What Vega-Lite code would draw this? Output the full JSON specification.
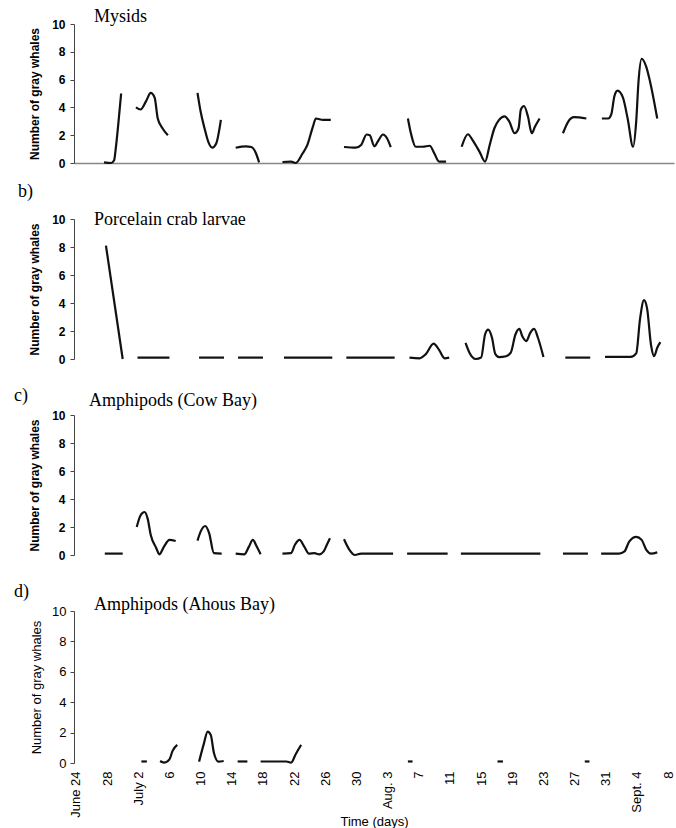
{
"$schema": "https://vega.github.io/schema/vega-lite/v6.json",
"background": "white",
"padding": {"left": 13, "top": 8, "right": 0, "bottom": 0},
"bounds": "flush",
"spacing": 56,
"config": {"view": {"stroke": null}, "axis": {"grid": false}, "text": {"font": "Liberation Serif", "fontSize": 18, "align": "left", "baseline": "alphabetic", "color": "#000"}},
"resolve": {"scale": {"x": "independent", "y": "independent"}},
"datasets": {
"mysids": [
{"s":1,"d":3.6,"n":0.05},{"s":1,"d":4.5,"n":0},{"s":1,"d":4.9,"n":0.2},{"s":1,"d":5.1,"n":1.0},{"s":1,"d":5.4,"n":2.6},{"s":1,"d":5.8,"n":5.0},
{"s":2,"d":7.7,"n":4.0},{"s":2,"d":8.3,"n":3.85},{"s":2,"d":9.0,"n":4.45},{"s":2,"d":9.6,"n":5.05},{"s":2,"d":10.1,"n":4.7},{"s":2,"d":10.5,"n":3.2},{"s":2,"d":11.1,"n":2.5},{"s":2,"d":11.8,"n":2.0},
{"s":3,"d":15.6,"n":5.05},{"s":3,"d":16.0,"n":3.7},{"s":3,"d":16.5,"n":2.5},{"s":3,"d":17.0,"n":1.5},{"s":3,"d":17.5,"n":1.1},{"s":3,"d":18.0,"n":1.4},{"s":3,"d":18.6,"n":3.1},
{"s":4,"d":20.5,"n":1.1},{"s":4,"d":21.8,"n":1.2},{"s":4,"d":22.5,"n":1.15},{"s":4,"d":23.1,"n":0.7},{"s":4,"d":23.5,"n":0.05},
{"s":5,"d":26.5,"n":0.07},{"s":5,"d":27.6,"n":0.1},{"s":5,"d":28.2,"n":0},{"s":5,"d":29.1,"n":0.7},{"s":5,"d":29.7,"n":1.3},{"s":5,"d":30.4,"n":2.6},{"s":5,"d":30.8,"n":3.2},{"s":5,"d":31.7,"n":3.1},{"s":5,"d":32.7,"n":3.1},
{"s":6,"d":34.4,"n":1.15},{"s":6,"d":35.9,"n":1.1},{"s":6,"d":36.6,"n":1.3},{"s":6,"d":37.3,"n":2.05},{"s":6,"d":37.7,"n":2.0},{"s":6,"d":38.3,"n":1.2},{"s":6,"d":38.8,"n":1.6},{"s":6,"d":39.4,"n":2.05},{"s":6,"d":39.9,"n":1.8},{"s":6,"d":40.4,"n":1.15},
{"s":7,"d":42.6,"n":3.2},{"s":7,"d":43.0,"n":2.1},{"s":7,"d":43.6,"n":1.17},{"s":7,"d":44.5,"n":1.17},{"s":7,"d":45.4,"n":1.24},{"s":7,"d":46.0,"n":0.68},{"s":7,"d":46.6,"n":0.1},{"s":7,"d":47.5,"n":0.1},
{"s":8,"d":49.5,"n":1.17},{"s":8,"d":50.3,"n":2.07},{"s":8,"d":50.9,"n":1.65},{"s":8,"d":51.8,"n":0.8},{"s":8,"d":52.5,"n":0.1},{"s":8,"d":53.1,"n":1.3},{"s":8,"d":53.7,"n":2.5},{"s":8,"d":54.3,"n":3.1},{"s":8,"d":55.0,"n":3.36},{"s":8,"d":55.6,"n":3.0},{"s":8,"d":56.3,"n":2.14},{"s":8,"d":56.8,"n":2.5},{"s":8,"d":57.1,"n":3.85},{"s":8,"d":57.5,"n":4.1},{"s":8,"d":58.0,"n":3.36},{"s":8,"d":58.5,"n":2.14},{"s":8,"d":58.9,"n":2.6},{"s":8,"d":59.5,"n":3.2},
{"s":9,"d":62.5,"n":2.14},{"s":9,"d":63.2,"n":3.0},{"s":9,"d":63.9,"n":3.3},{"s":9,"d":65.5,"n":3.2},
{"s":10,"d":67.5,"n":3.2},{"s":10,"d":68.3,"n":3.2},{"s":10,"d":68.7,"n":3.5},{"s":10,"d":69.1,"n":4.8},{"s":10,"d":69.5,"n":5.2},{"s":10,"d":70.2,"n":4.7},{"s":10,"d":70.8,"n":3.2},{"s":10,"d":71.5,"n":1.17},{"s":10,"d":71.9,"n":3.0},{"s":10,"d":72.2,"n":5.9},{"s":10,"d":72.6,"n":7.5},{"s":10,"d":73.2,"n":6.9},{"s":10,"d":73.7,"n":5.8},{"s":10,"d":74.6,"n":3.2}
],
"crab": [
{"s":1,"d":3.85,"n":8.1},{"s":1,"d":6.0,"n":0},
{"s":2,"d":7.9,"n":0.1},{"s":2,"d":12.0,"n":0.1},
{"s":3,"d":15.8,"n":0.1},{"s":3,"d":19.0,"n":0.1},
{"s":4,"d":20.8,"n":0.1},{"s":4,"d":24.0,"n":0.1},
{"s":5,"d":26.7,"n":0.1},{"s":5,"d":32.9,"n":0.1},
{"s":6,"d":34.7,"n":0.1},{"s":6,"d":40.9,"n":0.1},
{"s":7,"d":42.8,"n":0.1},{"s":7,"d":44.1,"n":0.05},{"s":7,"d":44.9,"n":0.35},{"s":7,"d":45.9,"n":1.1},{"s":7,"d":46.6,"n":0.65},{"s":7,"d":47.3,"n":0.05},{"s":7,"d":47.9,"n":0.1},
{"s":8,"d":50.0,"n":1.15},{"s":8,"d":50.5,"n":0.45},{"s":8,"d":51.3,"n":0},{"s":8,"d":52.0,"n":0.1},{"s":8,"d":52.5,"n":1.75},{"s":8,"d":52.9,"n":2.1},{"s":8,"d":53.4,"n":1.5},{"s":8,"d":53.8,"n":0.38},{"s":8,"d":54.3,"n":0.14},{"s":8,"d":55.2,"n":0.2},{"s":8,"d":55.8,"n":0.45},{"s":8,"d":56.4,"n":1.75},{"s":8,"d":56.9,"n":2.15},{"s":8,"d":57.3,"n":1.6},{"s":8,"d":57.8,"n":1.28},{"s":8,"d":58.3,"n":1.87},{"s":8,"d":58.8,"n":2.15},{"s":8,"d":59.3,"n":1.5},{"s":8,"d":60.0,"n":0.14},
{"s":9,"d":62.8,"n":0.1},{"s":9,"d":66.0,"n":0.1},
{"s":10,"d":67.9,"n":0.15},{"s":10,"d":71.2,"n":0.15},{"s":10,"d":71.9,"n":0.4},{"s":10,"d":72.4,"n":2.9},{"s":10,"d":72.9,"n":4.2},{"s":10,"d":73.3,"n":3.6},{"s":10,"d":73.8,"n":1.0},{"s":10,"d":74.2,"n":0.2},{"s":10,"d":74.6,"n":0.8},{"s":10,"d":75.0,"n":1.2}
],
"cow": [
{"s":1,"d":3.7,"n":0.1},{"s":1,"d":6.0,"n":0.1},
{"s":2,"d":7.8,"n":2.0},{"s":2,"d":8.3,"n":2.84},{"s":2,"d":8.8,"n":3.07},{"s":2,"d":9.2,"n":2.6},{"s":2,"d":9.6,"n":1.43},{"s":2,"d":10.3,"n":0.5},{"s":2,"d":10.7,"n":0.05},{"s":2,"d":11.3,"n":0.6},{"s":2,"d":12.0,"n":1.08},{"s":2,"d":12.8,"n":1.0},
{"s":3,"d":15.6,"n":1.03},{"s":3,"d":16.0,"n":1.67},{"s":3,"d":16.6,"n":2.07},{"s":3,"d":17.1,"n":1.55},{"s":3,"d":17.7,"n":0.14},{"s":3,"d":18.7,"n":0.1},
{"s":4,"d":20.5,"n":0.1},{"s":4,"d":21.6,"n":0.05},{"s":4,"d":22.2,"n":0.6},{"s":4,"d":22.7,"n":1.08},{"s":4,"d":23.2,"n":0.6},{"s":4,"d":23.7,"n":0.05},
{"s":5,"d":26.5,"n":0.1},{"s":5,"d":27.6,"n":0.14},{"s":5,"d":28.1,"n":0.73},{"s":5,"d":28.7,"n":1.08},{"s":5,"d":29.3,"n":0.6},{"s":5,"d":29.9,"n":0.1},{"s":5,"d":30.6,"n":0.14},{"s":5,"d":31.2,"n":0.05},{"s":5,"d":31.8,"n":0.26},{"s":5,"d":32.2,"n":0.73},{"s":5,"d":32.6,"n":1.2},
{"s":6,"d":34.4,"n":1.13},{"s":6,"d":35.1,"n":0.37},{"s":6,"d":35.8,"n":0},{"s":6,"d":36.6,"n":0.1},{"s":6,"d":40.7,"n":0.1},
{"s":7,"d":42.5,"n":0.1},{"s":7,"d":47.7,"n":0.1},
{"s":8,"d":49.4,"n":0.1},{"s":8,"d":59.6,"n":0.1},
{"s":9,"d":62.5,"n":0.1},{"s":9,"d":65.7,"n":0.1},
{"s":10,"d":67.4,"n":0.1},{"s":10,"d":69.7,"n":0.1},{"s":10,"d":70.4,"n":0.26},{"s":10,"d":71.0,"n":0.96},{"s":10,"d":71.9,"n":1.3},{"s":10,"d":72.6,"n":1.08},{"s":10,"d":73.2,"n":0.37},{"s":10,"d":73.8,"n":0.1},{"s":10,"d":74.6,"n":0.19}
],
"ahous": [
{"s":1,"d":8.4,"n":0.1},{"s":1,"d":9.1,"n":0.1},
{"s":2,"d":10.8,"n":0.13},{"s":2,"d":11.3,"n":0.02},{"s":2,"d":12.0,"n":0.24},{"s":2,"d":12.4,"n":0.8},{"s":2,"d":13.0,"n":1.19},
{"s":3,"d":15.8,"n":0.09},{"s":3,"d":16.4,"n":1.24},{"s":3,"d":16.9,"n":2.07},{"s":3,"d":17.3,"n":1.85},{"s":3,"d":17.7,"n":0.68},{"s":3,"d":18.3,"n":0.09},{"s":3,"d":18.96,"n":0.13},
{"s":4,"d":20.75,"n":0.1},{"s":4,"d":22.0,"n":0.1},
{"s":5,"d":23.7,"n":0.1},{"s":5,"d":27.0,"n":0.1},{"s":5,"d":27.6,"n":0.02},{"s":5,"d":28.2,"n":0.58},{"s":5,"d":28.9,"n":1.19},
{"s":6,"d":42.6,"n":0.1},{"s":6,"d":43.2,"n":0.1},
{"s":7,"d":54.1,"n":0.1},{"s":7,"d":54.8,"n":0.1},
{"s":8,"d":65.3,"n":0.1},{"s":8,"d":65.9,"n":0.1}
]
},
"vconcat": [
{
"width": 600, "height": 139,
"resolve": {"axis": {"x": "independent", "y": "independent"}},
"layer": [
{
"data": {"name": "mysids"},
"mark": {"type": "line", "interpolate": "monotone", "color": "#111", "strokeWidth": 2.2},
"encoding": {
"x": {"field": "d", "type": "quantitative", "scale": {"domain": [-0.25, 76.75], "nice": false, "zero": false}, "axis": {"title": null, "labels": false, "ticks": false, "domain": true, "domainColor": "#888", "domainWidth": 1.5}},
"y": {"field": "n", "type": "quantitative", "scale": {"domain": [0, 10], "nice": false}, "axis": {"title": "Number of gray whales", "values": [0, 2, 4, 6, 8, 10], "labelOverlap": false, "domainColor": "#444", "tickColor": "#444", "tickSize": 4, "labelFont": "Liberation Sans", "labelFontSize": 12, "labelFontWeight": "bold", "labelColor": "#000", "labelPadding": 5, "titleFont": "Liberation Sans", "titleFontSize": 12, "titleFontWeight": "bold", "titleColor": "#000", "titlePadding": 10}},
"detail": {"field": "s", "type": "nominal"}
}
},
{
"data": {"values": [{"label": "Mysids"}]},
"mark": {"type": "text"},
"encoding": {"x": {"datum": 2.31, "axis": null}, "y": {"datum": 10.14, "axis": null}, "text": {"field": "label"}}
}
]
},
{
"width": 600, "height": 140,
"resolve": {"axis": {"x": "independent", "y": "independent"}},
"layer": [
{
"data": {"name": "crab"},
"mark": {"type": "line", "interpolate": "monotone", "color": "#111", "strokeWidth": 2.2},
"encoding": {
"x": {"field": "d", "type": "quantitative", "scale": {"domain": [-0.25, 76.75], "nice": false, "zero": false}, "axis": null},
"y": {"field": "n", "type": "quantitative", "scale": {"domain": [0, 10], "nice": false}, "axis": {"title": "Number of gray whales", "values": [0, 2, 4, 6, 8, 10], "labelOverlap": false, "domainColor": "#444", "tickColor": "#444", "tickSize": 4, "labelFont": "Liberation Sans", "labelFontSize": 12, "labelFontWeight": "bold", "labelColor": "#000", "labelPadding": 5, "titleFont": "Liberation Sans", "titleFontSize": 12, "titleFontWeight": "bold", "titleColor": "#000", "titlePadding": 10}},
"detail": {"field": "s", "type": "nominal"}
}
},
{
"data": {"values": [{"label": "Porcelain crab larvae"}]},
"mark": {"type": "text"},
"encoding": {"x": {"datum": 2.31, "axis": null}, "y": {"datum": 9.57, "axis": null}, "text": {"field": "label"}}
},
{
"data": {"values": [{"label": "b)"}]},
"mark": {"type": "text"},
"encoding": {"x": {"datum": -7.45, "axis": null}, "y": {"datum": 11.6, "axis": null}, "text": {"field": "label"}}
}
]
},
{
"width": 600, "height": 140,
"resolve": {"axis": {"x": "independent", "y": "independent"}},
"layer": [
{
"data": {"name": "cow"},
"mark": {"type": "line", "interpolate": "monotone", "color": "#111", "strokeWidth": 2.2},
"encoding": {
"x": {"field": "d", "type": "quantitative", "scale": {"domain": [-0.25, 76.75], "nice": false, "zero": false}, "axis": null},
"y": {"field": "n", "type": "quantitative", "scale": {"domain": [0, 10], "nice": false}, "axis": {"title": "Number of gray whales", "values": [0, 2, 4, 6, 8, 10], "labelOverlap": false, "domainColor": "#444", "tickColor": "#444", "tickSize": 4, "labelFont": "Liberation Sans", "labelFontSize": 12, "labelFontWeight": "bold", "labelColor": "#000", "labelPadding": 5, "titleFont": "Liberation Sans", "titleFontSize": 12, "titleFontWeight": "bold", "titleColor": "#000", "titlePadding": 10}},
"detail": {"field": "s", "type": "nominal"}
}
},
{
"data": {"values": [{"label": "Amphipods (Cow Bay)"}]},
"mark": {"type": "text"},
"encoding": {"x": {"datum": 1.67, "axis": null}, "y": {"datum": 10.64, "axis": null}, "text": {"field": "label"}}
},
{
"data": {"values": [{"label": "c)"}]},
"mark": {"type": "text"},
"encoding": {"x": {"datum": -7.96, "axis": null}, "y": {"datum": 11.0, "axis": null}, "text": {"field": "label"}}
}
]
},
{
"width": 600, "height": 152,
"resolve": {"axis": {"x": "independent", "y": "independent"}},
"layer": [
{
"data": {"name": "ahous"},
"mark": {"type": "line", "interpolate": "monotone", "color": "#111", "strokeWidth": 2.2},
"encoding": {
"x": {"field": "d", "type": "quantitative", "scale": {"domain": [-0.25, 76.75], "nice": false, "zero": false}, "axis": {"title": "Time (days)", "values": [0, 4, 8, 12, 16, 20, 24, 28, 32, 36, 40, 44, 48, 52, 56, 60, 64, 68, 72, 76], "labelExpr": "['June 24','28','July 2','6','10','14','18','22','26','30','Aug. 3','7','11','15','19','23','27','31','Sept. 4','8'][round(datum.value/4)]", "labelAngle": 270, "labelFont": "Liberation Sans", "labelFontSize": 13, "labelColor": "#000", "labelPadding": 8, "ticks": false, "tickSize": 0, "domain": false, "labelOverlap": false, "titleFont": "Liberation Sans", "titleFontSize": 13, "titleFontWeight": "normal", "titleColor": "#000", "titleBaseline": "alphabetic", "titleY": 62}},
"y": {"field": "n", "type": "quantitative", "scale": {"domain": [0, 10], "nice": false}, "axis": {"title": "Number of gray whales", "values": [0, 2, 4, 6, 8, 10], "labelOverlap": false, "domainColor": "#444", "tickColor": "#444", "tickSize": 4, "labelFont": "Liberation Sans", "labelFontSize": 13, "labelFontWeight": "normal", "labelColor": "#000", "labelPadding": 4, "titleFont": "Liberation Sans", "titleFontSize": 13, "titleFontWeight": "normal", "titleColor": "#000", "titlePadding": 8}},
"detail": {"field": "s", "type": "nominal"}
}
},
{
"data": {"values": [{"label": "Amphipods (Ahous Bay)"}]},
"mark": {"type": "text"},
"encoding": {"x": {"datum": 2.31, "axis": null}, "y": {"datum": 10.07, "axis": null}, "text": {"field": "label"}}
},
{
"data": {"values": [{"label": "d)"}]},
"mark": {"type": "text"},
"encoding": {"x": {"datum": -7.96, "axis": null}, "y": {"datum": 10.9, "axis": null}, "text": {"field": "label"}}
}
]
}
]
}
